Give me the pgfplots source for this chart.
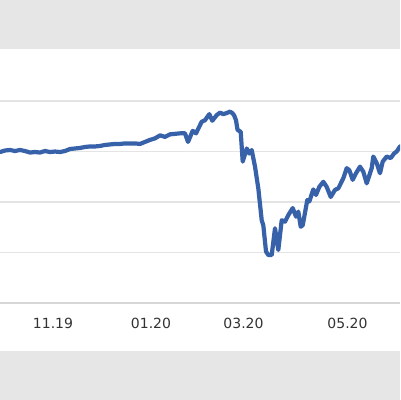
\documentclass[border=0pt]{standalone}
\usepackage{pgfplots}
\pgfplotsset{compat=1.18}
\usepackage{fontspec}
\setmainfont{DejaVu Sans}
\definecolor{panelgray}{HTML}{E6E6E6}
\definecolor{gridgray}{HTML}{E4E4E4}
\definecolor{basegray}{HTML}{D6D6D6}
\definecolor{lineblue}{HTML}{3761A8}
\definecolor{labelgray}{HTML}{333333}

\begin{document}
\begin{tikzpicture}
% gray page round the white chart panel
\fill[panelgray] (0,-24.5pt) rectangle (200pt,175.5pt);
\begin{axis}[
  scale only axis, width=200pt, height=151pt,
  xmin=0, xmax=400, ymin=-0.95, ymax=5.03,
  axis background/.style={fill=white},
  axis line style={draw=none},
  major tick style={draw=none},
  ytick={1,2,3,4}, yticklabels={},
  ymajorgrids, grid style={gridgray, line width=0.6pt},
  extra y ticks={0}, extra y tick labels={},
  extra y tick style={grid style={basegray, line width=0.8pt}},
  xtick={53,151,243.5,347.5},
  xticklabels={11.19,01.20,03.20,05.20},
  xticklabel style={anchor=center, yshift=14pt, font=\fontsize{7}{8}\selectfont, text=labelgray},
  clip=true,
]
\addplot[lineblue, line width=2.1pt, line join=round, line cap=round, mark=none] coordinates {
(0,2.99)(5,3.02)(10,3.03)(15,3.01)(20,3.03)(25,3.01)(30,2.98)(35,2.99)(40,2.98)
(45,3.01)(50,2.99)(55,3.00)(60,2.99)(65,3.01)(70,3.05)(75,3.06)(80,3.07)(85,3.09)
(90,3.10)(95,3.10)(100,3.11)(105,3.13)(110,3.14)(115,3.15)(120,3.15)(125,3.16)
(130,3.16)(135,3.16)(140,3.15)(145,3.19)(150,3.23)(155,3.26)(160,3.32)(165,3.29)
(170,3.34)(175,3.35)(180,3.36)(185,3.36)(188,3.19)(192.7,3.41)(196,3.36)
(201.7,3.59)(205,3.62)(209.3,3.74)(212.3,3.61)(216.7,3.72)(220,3.77)(223.3,3.74)
(226.5,3.76)(230,3.79)(232.3,3.76)(234,3.72)(236,3.62)(237.5,3.43)(240.7,3.39)
(242.7,2.80)(246.7,3.06)(249.3,2.96)(251.7,3.03)(255,2.70)(258.3,2.27)(261.7,1.64)
(263.3,1.54)(266,1.02)(268.3,0.95)(271.7,0.95)(275,1.48)(278.3,1.05)(281.7,1.64)
(285,1.61)(288.3,1.74)(292.7,1.88)(296,1.71)(298.3,1.81)(300.7,1.51)(302.7,1.54)
(307.3,2.04)(309.3,2.01)(313.3,2.25)(316,2.14)(319.3,2.30)(323.3,2.40)(326.7,2.30)
(330.7,2.10)(335,2.24)(338.3,2.27)(343.3,2.47)(346.7,2.67)(349.3,2.63)(352.7,2.44)
(356,2.57)(360,2.70)(363.3,2.60)(366.7,2.37)(371.7,2.67)(373.3,2.90)(376.7,2.77)
(380,2.57)(382.7,2.80)(386.7,2.90)(390.7,2.87)(394,2.96)(396.7,3.00)(400,3.10)
};
\end{axis}
\pgfresetboundingbox
\path[use as bounding box] (0,-24.5pt) rectangle (200pt,175.5pt);
\end{tikzpicture}
\end{document}
